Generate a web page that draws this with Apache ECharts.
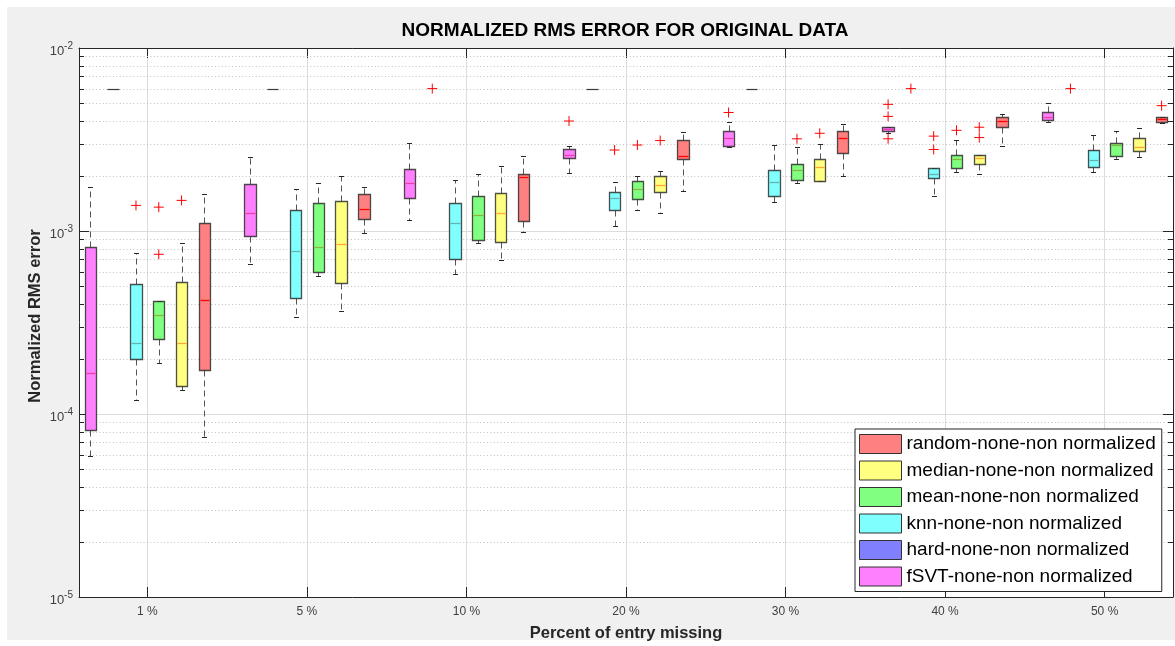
<!DOCTYPE html>
<html>
<head>
<meta charset="utf-8">
<script src="https://cdn.jsdelivr.net/npm/echarts@6/dist/echarts.min.js"></script>
<style>
  html, body { margin: 0; padding: 0; background: #ffffff; }
  #chart { width: 1175px; height: 646px; }
</style>
</head>
<body>
<div id="chart"></div>
<script>
// Percent of entries removed (one group of boxes per level)
const categories = ['1 %', '5 %', '10 %', '20 %', '30 %', '40 %', '50 %'];

// Box statistics per group: [lower whisker, Q1, median, Q3, upper whisker]
const fsvtBoxes = [
  [5.9e-5, 8.2e-5, 1.68e-4, 8.2e-4, 1.75e-3],
  [6.6e-4, 9.4e-4, 1.25e-3, 1.81e-3, 2.55e-3],
  [1.15e-3, 1.52e-3, 1.82e-3, 2.18e-3, 3.03e-3],
  [2.07e-3, 2.52e-3, 2.61e-3, 2.81e-3, 2.90e-3],
  [2.86e-3, 2.91e-3, 3.24e-3, 3.51e-3, 3.93e-3],
  [3.45e-3, 3.51e-3, 3.60e-3, 3.69e-3, 3.69e-3],
  [3.94e-3, 4.05e-3, 4.20e-3, 4.47e-3, 5.03e-3]
];
const hardBoxes = [
  [6e-3, 6e-3, 6e-3, 6e-3, 6e-3],
  [6e-3, 6e-3, 6e-3, 6e-3, 6e-3],
  null,
  [6e-3, 6e-3, 6e-3, 6e-3, 6e-3],
  [6e-3, 6e-3, 6e-3, 6e-3, 6e-3],
  null,
  null
];
const knnBoxes = [
  [1.19e-4, 2.00e-4, 2.45e-4, 5.13e-4, 7.60e-4],
  [3.39e-4, 4.28e-4, 7.80e-4, 1.31e-3, 1.70e-3],
  [5.79e-4, 7.03e-4, 1.10e-3, 1.42e-3, 1.89e-3],
  [1.06e-3, 1.31e-3, 1.51e-3, 1.64e-3, 1.86e-3],
  [1.44e-3, 1.56e-3, 1.85e-3, 2.15e-3, 2.95e-3],
  [1.55e-3, 1.95e-3, 2.05e-3, 2.22e-3, 2.22e-3],
  [2.10e-3, 2.25e-3, 2.43e-3, 2.77e-3, 3.36e-3]
];
const meanBoxes = [
  [1.91e-4, 2.56e-4, 3.49e-4, 4.16e-4, 4.16e-4],
  [5.65e-4, 5.94e-4, 8.14e-4, 1.42e-3, 1.82e-3],
  [8.60e-4, 8.93e-4, 1.23e-3, 1.56e-3, 2.06e-3],
  [1.30e-3, 1.49e-3, 1.69e-3, 1.87e-3, 2.01e-3],
  [1.82e-3, 1.90e-3, 2.15e-3, 2.33e-3, 2.87e-3],
  [2.10e-3, 2.22e-3, 2.47e-3, 2.61e-3, 3.14e-3],
  [2.47e-3, 2.58e-3, 2.94e-3, 3.03e-3, 3.53e-3]
];
const medianBoxes = [
  [1.35e-4, 1.42e-4, 2.45e-4, 5.28e-4, 8.57e-4],
  [3.67e-4, 5.18e-4, 8.45e-4, 1.45e-3, 2.00e-3],
  [6.95e-4, 8.67e-4, 1.25e-3, 1.62e-3, 2.26e-3],
  [1.26e-3, 1.63e-3, 1.78e-3, 2.00e-3, 2.13e-3],
  [1.88e-3, 1.88e-3, 2.25e-3, 2.47e-3, 2.99e-3],
  [2.04e-3, 2.33e-3, 2.52e-3, 2.59e-3, 2.59e-3],
  [2.53e-3, 2.73e-3, 2.87e-3, 3.24e-3, 3.67e-3]
];
const randomBoxes = [
  [7.5e-5, 1.75e-4, 4.18e-4, 1.11e-3, 1.59e-3],
  [9.75e-4, 1.16e-3, 1.32e-3, 1.59e-3, 1.73e-3],
  [9.9e-4, 1.14e-3, 1.97e-3, 2.06e-3, 2.56e-3],
  [1.66e-3, 2.48e-3, 2.58e-3, 3.14e-3, 3.46e-3],
  [2.00e-3, 2.66e-3, 3.24e-3, 3.53e-3, 3.83e-3],
  [2.90e-3, 3.71e-3, 3.97e-3, 4.21e-3, 4.38e-3],
  [3.89e-3, 3.94e-3, 4.07e-3, 4.18e-3, 4.18e-3]
];

// Outliers per method: [group index, value]
const fsvtOutliers = [[3, 3.99e-3], [4, 4.44e-3], [5, 4.92e-3], [5, 4.23e-3], [5, 3.19e-3]];
const hardOutliers = [[2, 6e-3], [5, 6e-3], [6, 6e-3]];
const knnOutliers = [[0, 1.38e-3], [3, 2.77e-3], [5, 3.30e-3], [5, 2.79e-3]];
const meanOutliers = [[0, 1.35e-3], [0, 7.46e-4], [3, 2.95e-3], [4, 3.19e-3], [5, 3.55e-3]];
const medianOutliers = [[0, 1.47e-3], [3, 3.12e-3], [4, 3.42e-3], [5, 3.69e-3], [5, 3.24e-3]];
const randomOutliers = [[6, 4.84e-3]];

// Minor tick values of the logarithmic y axis
const minorTickValues = [
  2e-5, 3e-5, 4e-5, 5e-5, 6e-5, 7e-5, 8e-5, 9e-5,
  2e-4, 3e-4, 4e-4, 5e-4, 6e-4, 7e-4, 8e-4, 9e-4,
  2e-3, 3e-3, 4e-3, 5e-3, 6e-3, 7e-3, 8e-3, 9e-3
];

// Methods in drawing order inside each group
const methods = [
  { name: 'fSVT-none-non normalized',   boxes: fsvtBoxes,   outliers: fsvtOutliers,   fill: '#ff80ff', median: '#f03ca8' },
  { name: 'hard-none-non normalized',   boxes: hardBoxes,   outliers: hardOutliers,   fill: '#8080ff', median: '#3a3a3a' },
  { name: 'knn-none-non normalized',    boxes: knnBoxes,    outliers: knnOutliers,    fill: '#80ffff', median: '#62b4b4' },
  { name: 'mean-none-non normalized',   boxes: meanBoxes,   outliers: meanOutliers,   fill: '#80ff80', median: '#8cb43c' },
  { name: 'median-none-non normalized', boxes: medianBoxes, outliers: medianOutliers, fill: '#ffff80', median: '#ffa533' },
  { name: 'random-none-non normalized', boxes: randomBoxes, outliers: randomOutliers, fill: '#ff8080', median: '#ff0000' }
];

const SLOTS = 7; // six boxes plus one empty slot per group
const boxPos = (g, k) => g * SLOTS + k + 1;
const groupCenters = categories.map((c, g) => g * SLOTS + 3.5);

const FONT = '"Liberation Sans", Arial, Helvetica, sans-serif';
const crisp = v => Math.round(v) + 0.5;

function makeBoxRenderer(fill, medianColor) {
  return function (params, api) {
    const x = api.value(0);
    const lo = api.value(1), q1 = api.value(2), med = api.value(3), q3 = api.value(4), hi = api.value(5);
    const cx = api.coord([x, med])[0];
    const half = (api.coord([x + 0.25, med])[0] - api.coord([x - 0.25, med])[0]) / 2;
    const capHalf = half * 0.44;
    const yLo = crisp(api.coord([x, lo])[1]);
    const yQ1 = crisp(api.coord([x, q1])[1]);
    const yMed = crisp(api.coord([x, med])[1]);
    const yQ3 = crisp(api.coord([x, q3])[1]);
    const yHi = crisp(api.coord([x, hi])[1]);
    const xc = crisp(cx);
    const left = Math.round(cx - half) + 0.5;
    const right = Math.round(cx + half) + 0.5;
    const whisker = { stroke: '#555555', lineWidth: 1, lineDash: [6, 4] };
    const cap = { stroke: '#262626', lineWidth: 1 };
    const children = [];
    if (yHi < yQ3) children.push({ type: 'line', shape: { x1: xc, y1: yQ3, x2: xc, y2: yHi }, style: whisker });
    if (yLo > yQ1) children.push({ type: 'line', shape: { x1: xc, y1: yQ1, x2: xc, y2: yLo }, style: whisker });
    children.push({ type: 'line', shape: { x1: xc - capHalf, y1: yHi, x2: xc + capHalf, y2: yHi }, style: cap });
    children.push({ type: 'line', shape: { x1: xc - capHalf, y1: yLo, x2: xc + capHalf, y2: yLo }, style: cap });
    if (yQ1 - yQ3 >= 1) {
      children.push({ type: 'rect', shape: { x: left, y: yQ3, width: right - left, height: yQ1 - yQ3 },
        style: { fill: fill, stroke: 'rgba(35,35,35,0.8)', lineWidth: 1.3 } });
      children.push({ type: 'line', shape: { x1: left + 1, y1: yMed, x2: right - 1, y2: yMed },
        style: { stroke: medianColor, lineWidth: 1.3 } });
    } else {
      children.push({ type: 'line', shape: { x1: left, y1: yMed, x2: right, y2: yMed },
        style: { stroke: '#3a3a3a', lineWidth: 1.2 } });
    }
    return { type: 'group', children: children };
  };
}

function renderMinor(params, api) {
  const cs = params.coordSys;
  const y = crisp(api.coord([1, api.value(1)])[1]);
  const x0 = cs.x, x1 = cs.x + cs.width;
  return { type: 'group', children: [
    { type: 'line', shape: { x1: x0, y1: y, x2: x1, y2: y }, style: { stroke: '#c2c2c2', lineWidth: 1, lineDash: [1, 2.4] } },
    { type: 'line', shape: { x1: x0, y1: y, x2: x0 + 5, y2: y }, style: { stroke: '#262626', lineWidth: 1 } },
    { type: 'line', shape: { x1: x1 - 5, y1: y, x2: x1, y2: y }, style: { stroke: '#262626', lineWidth: 1 } }
  ] };
}

const series = [];
series.push({
  name: 'minor grid', type: 'custom', z: 1, silent: true,
  renderItem: renderMinor,
  encode: { x: 0, y: 1 },
  data: minorTickValues.map(v => [1, v])
});
methods.forEach((m, k) => {
  const data = [];
  m.boxes.forEach((b, g) => { if (b) data.push([boxPos(g, k)].concat(b)); });
  series.push({
    name: m.name, type: 'custom', z: 3,
    color: m.fill,
    itemStyle: { color: m.fill },
    renderItem: makeBoxRenderer(m.fill, m.median),
    encode: { x: 0, y: [1, 2, 3, 4, 5] },
    data: data
  });
});
const outlierData = [];
methods.forEach((m, k) => m.outliers.forEach(o => outlierData.push([boxPos(o[0], k), o[1]])));
series.push({
  name: 'outliers', type: 'scatter', z: 5, silent: true,
  symbol: 'path://M0,5L10,5M5,0L5,10',
  symbolSize: 10,
  itemStyle: { color: 'rgba(0,0,0,0)', borderColor: '#ff0000', borderWidth: 1, opacity: 1 },
  data: outlierData
});

const axisLineStyle = { color: '#262626', width: 1 };
const gridLineStyle = { color: '#dcdcdc', width: 1 };

const option = {
  backgroundColor: '#ffffff',
  animation: false,
  graphic: [
    { type: 'rect', z: -10, shape: { x: 7, y: 7, width: 1168, height: 633 }, style: { fill: '#f0f0f0' }, silent: true },
    { type: 'text', x: 625, y: 31, style: { text: 'NORMALIZED RMS ERROR FOR ORIGINAL DATA', font: 'bold 19px ' + FONT, fill: '#000000', align: 'center', verticalAlign: 'middle' } },
    { type: 'text', x: 626, y: 633, style: { text: 'Percent of entry missing', font: 'bold 16.5px ' + FONT, fill: '#262626', align: 'center', verticalAlign: 'middle' } },
    { type: 'text', x: 35, y: 316, rotation: Math.PI / 2, style: { text: 'Normalized RMS error', font: 'bold 16.5px ' + FONT, fill: '#262626', align: 'center', verticalAlign: 'middle' } }
  ],
  grid: { left: 79, right: 2, top: 48, bottom: 49, show: true, backgroundColor: '#ffffff', borderWidth: 0 },
  legend: {
    data: ['random-none-non normalized', 'median-none-non normalized', 'mean-none-non normalized',
           'knn-none-non normalized', 'hard-none-non normalized', 'fSVT-none-non normalized'],
    orient: 'vertical', left: 855, top: 429,
    icon: 'rect', itemWidth: 42, itemHeight: 19, itemGap: 6.5,
    padding: [5, 6, 5, 4],
    backgroundColor: '#ffffff', borderColor: '#262626', borderWidth: 1, borderRadius: 0,
    itemStyle: { borderColor: '#333333', borderWidth: 1 },
    textStyle: { fontFamily: FONT, fontSize: 19, color: '#000000' },
    selectedMode: false
  },
  xAxis: [
    {
      type: 'value', position: 'bottom', min: 0.5, max: 48.5,
      axisLine: { show: true, onZero: false, lineStyle: axisLineStyle },
      axisTick: { show: true, inside: true, length: 10, customValues: groupCenters, lineStyle: axisLineStyle },
      axisLabel: {
        customValues: groupCenters, margin: 9, fontFamily: FONT, fontSize: 12, color: '#404040',
        formatter: v => categories[Math.round((v - 3.5) / SLOTS)]
      },
      splitLine: { show: true, lineStyle: gridLineStyle }
    },
    {
      type: 'value', position: 'top', min: 0.5, max: 48.5,
      axisLine: { show: true, onZero: false, lineStyle: axisLineStyle },
      axisTick: { show: true, inside: true, length: 10, customValues: groupCenters, lineStyle: axisLineStyle },
      axisLabel: { show: false },
      splitLine: { show: false }
    }
  ],
  yAxis: [
    {
      type: 'log', logBase: 10, min: 1e-5, max: 1e-2, position: 'left',
      axisLine: { show: true, onZero: false, lineStyle: axisLineStyle },
      axisTick: { show: true, inside: true, length: 10, lineStyle: axisLineStyle },
      axisLabel: {
        margin: 6, color: '#404040',
        formatter: v => '{b|10}{s|' + Math.round(Math.log10(v)) + '}',
        rich: {
          b: { fontFamily: FONT, fontSize: 13, color: '#404040', padding: [6, 0, 0, 0] },
          s: { fontFamily: FONT, fontSize: 10, color: '#404040', padding: [0, 0, 4, 0] }
        }
      },
      splitLine: { show: true, lineStyle: gridLineStyle }
    },
    {
      type: 'log', logBase: 10, min: 1e-5, max: 1e-2, position: 'right',
      axisLine: { show: true, onZero: false, lineStyle: axisLineStyle },
      axisTick: { show: true, inside: true, length: 10, lineStyle: axisLineStyle },
      axisLabel: { show: false },
      splitLine: { show: false }
    }
  ],
  series: series
};

const chart = echarts.init(document.getElementById('chart'), null, { renderer: 'canvas' });
chart.setOption(option);
</script>
</body>
</html>
